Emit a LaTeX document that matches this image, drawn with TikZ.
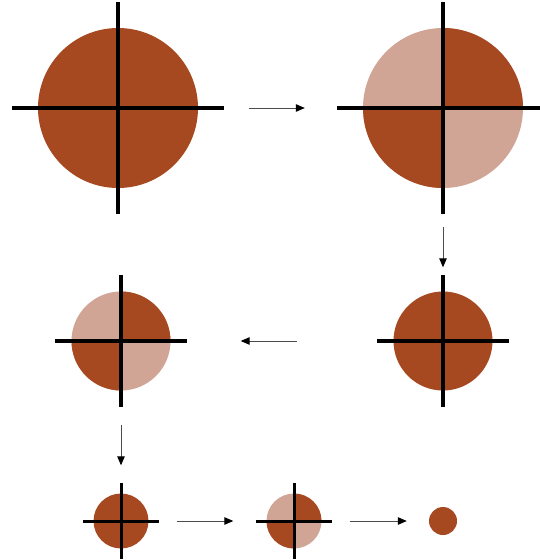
\documentclass[tikz,border=0pt]{standalone}
\usetikzlibrary{arrows.meta}
\definecolor{rust}{RGB}{166,72,32}
\definecolor{pale}{RGB}{208,165,150}

\begin{document}
\begin{tikzpicture}[x=1pt,y=-1pt,
    disc/.style={circle,fill=rust,inner sep=0pt,minimum size=#1},
    cross/.style={line width=#1,black},
    flow/.style={-{Triangle[length=9pt,width=7.5pt,black]},black!70,line width=1pt},
  ]
    \useasboundingbox (0,0) rectangle (539,560);

    % discs
    \node[disc=160pt] (whole) at (118,108) {};
    \node[disc=160pt,fill=pale] (split) at (443,108) {};
    \node[disc=99pt] (mid) at (443,341) {};
    \node[disc=99pt,fill=pale] (midsplit) at (121,341) {};
    \node[disc=55pt] (small) at (121,521) {};
    \node[disc=55pt,fill=pale] (smallsplit) at (294,521) {};
    \node[disc=28pt] (last) at (443,521) {};

    % dark quarters of the split discs
    \foreach \c/\r in {split/80,midsplit/49.5,smallsplit/27.5} {
      \begin{scope}
        \clip (\c.center) circle[radius=\r];
        \fill[rust] (\c.center) rectangle ++(\r+2,-\r-2);
        \fill[rust] (\c.center) rectangle ++(-\r-2,\r+2);
      \end{scope}
    }

    % crosses
    \foreach \c/\h/\w in {whole/106/3.7pt,split/106/3.7pt,mid/66/3.3pt,
                          midsplit/66/3.3pt,small/38/3pt,smallsplit/38/3pt} {
      \draw[cross=\w] (\c.center) +(-\h,0) -- +(\h,0)
                      (\c.center) +(0,-\h) -- +(0,\h);
    }

    % steps
    \draw[flow,shorten <=51pt,shorten >=58pt] (whole) -- (split);
    \draw[flow,shorten <=39pt,shorten >=24pt] (split) -- (mid);
    \draw[flow,shorten <=96pt,shorten >=70pt] (mid) -- (midsplit);
    \draw[flow,shorten <=34pt,shorten >=28pt] (midsplit) -- (small);
    \draw[flow,shorten <=28pt,shorten >=33pt] (small) -- (smallsplit);
    \draw[flow,shorten <=28pt,shorten >=22pt] (smallsplit) -- (last);
  \end{tikzpicture}
\end{document}
